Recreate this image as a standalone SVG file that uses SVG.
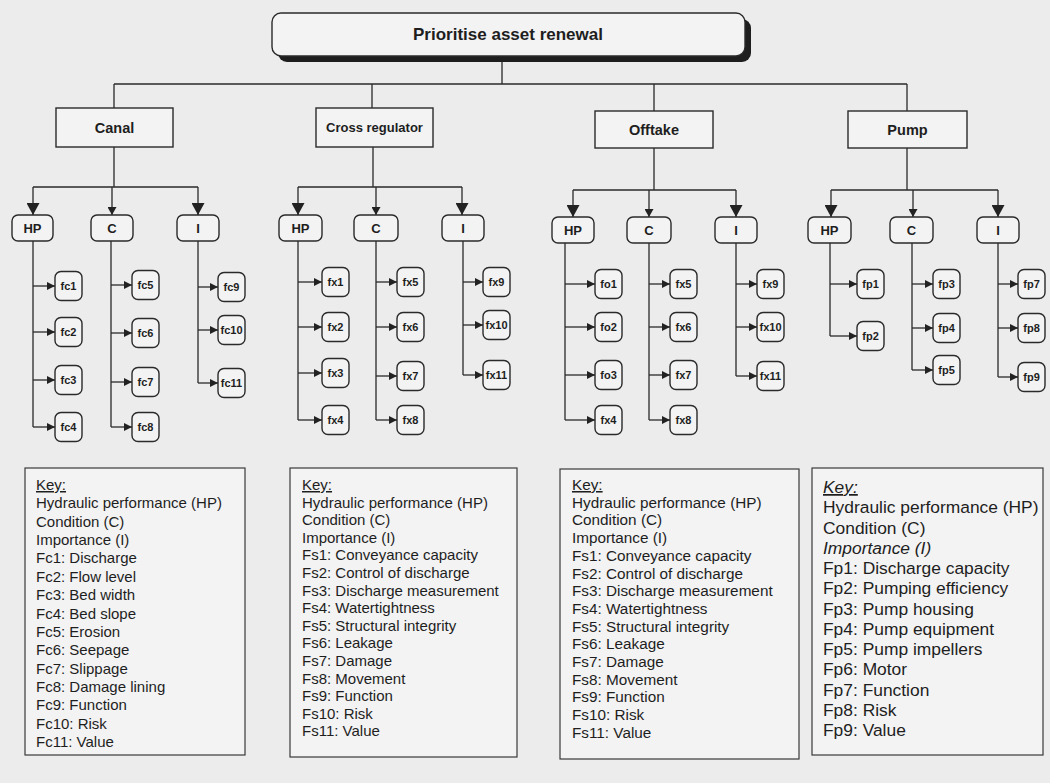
<svg xmlns="http://www.w3.org/2000/svg" width="1050" height="783" viewBox="0 0 1050 783">
<defs>
<style>
.bg{fill:#ececec}
.box{fill:#f3f3f3;stroke:#2a2a2a;stroke-width:1.4}
.kbox{fill:#f3f3f3;stroke:#3a3a3a;stroke-width:1.2}
.ln{fill:none;stroke:#2a2a2a;stroke-width:1.3}
.lb{font-family:"Liberation Sans",Arial,sans-serif;font-weight:bold;fill:#1e1e1e;text-anchor:middle}
.f{font-size:11px}
.t3{font-size:13px}
.key{font-family:"Liberation Sans",Arial,sans-serif;fill:#1e1e1e}
</style>
<marker id="ab" viewBox="0 0 12 13" refX="12" refY="6.5" markerWidth="12" markerHeight="13" markerUnits="userSpaceOnUse" orient="auto"><path d="M0,0L12,6.5L0,13z" fill="#222"/></marker>
<marker id="as" viewBox="0 0 8 9" refX="8" refY="4.5" markerWidth="8" markerHeight="9" markerUnits="userSpaceOnUse" orient="auto"><path d="M0,0L8,4.5L0,9z" fill="#222"/></marker>
<marker id="af" viewBox="0 0 8 8" refX="8" refY="4" markerWidth="8" markerHeight="8" markerUnits="userSpaceOnUse" orient="auto"><path d="M0,0L8,4L0,8z" fill="#222"/></marker>
</defs>
<rect class="bg" x="0" y="0" width="1050" height="783"/>

<g id="connectors">
<path class="ln" d="M502,60V84M114,84H907M114,84V108M372,84V108M654,84V111M907,84V111"/>
<!-- level 2 to level 3 -->
<path class="ln" d="M114,147V187M33,187H198"/>
<path class="ln" d="M33,187V215" marker-end="url(#ab)"/>
<path class="ln" d="M112,187V215" marker-end="url(#as)"/>
<path class="ln" d="M198,187V215" marker-end="url(#ab)"/>
<path class="ln" d="M373,147V187M298,187H462"/>
<path class="ln" d="M298,187V215" marker-end="url(#ab)"/>
<path class="ln" d="M376,187V215" marker-end="url(#as)"/>
<path class="ln" d="M462,187V215" marker-end="url(#ab)"/>
<path class="ln" d="M654,148V190M573,190H736"/>
<path class="ln" d="M573,190V217" marker-end="url(#ab)"/>
<path class="ln" d="M649,190V217" marker-end="url(#as)"/>
<path class="ln" d="M736,190V217" marker-end="url(#ab)"/>
<path class="ln" d="M907,148V190M831,190H998"/>
<path class="ln" d="M831,190V217" marker-end="url(#ab)"/>
<path class="ln" d="M913,190V217" marker-end="url(#as)"/>
<path class="ln" d="M998,190V217" marker-end="url(#ab)"/>
<!-- verticals to leaves -->
<path class="ln" d="M33,241V427M111,241V427M198,241V383M298,241V420M376,241V420M463,241V375M565,243V420M649,243V420M736,243V376M830,243V336M912,243V370M998,243V377"/>
<!-- branches -->
<g marker-end="url(#af)">
<path class="ln" d="M33,286H55"/><path class="ln" d="M33,332H55"/><path class="ln" d="M33,380H55"/><path class="ln" d="M33,427H55"/>
<path class="ln" d="M111,285H132"/><path class="ln" d="M111,333H132"/><path class="ln" d="M111,382H132"/><path class="ln" d="M111,427H132"/>
<path class="ln" d="M198,287H218"/><path class="ln" d="M198,330H218"/><path class="ln" d="M198,383H218"/>
<path class="ln" d="M298,282H322"/><path class="ln" d="M298,327H322"/><path class="ln" d="M298,373H322"/><path class="ln" d="M298,420H322"/>
<path class="ln" d="M376,282H397"/><path class="ln" d="M376,327H397"/><path class="ln" d="M376,376H397"/><path class="ln" d="M376,420H397"/>
<path class="ln" d="M463,282H483"/><path class="ln" d="M463,325H483"/><path class="ln" d="M463,375H483"/>
<path class="ln" d="M565,284H595"/><path class="ln" d="M565,327H595"/><path class="ln" d="M565,375H595"/><path class="ln" d="M565,420H595"/>
<path class="ln" d="M649,284H670"/><path class="ln" d="M649,327H670"/><path class="ln" d="M649,375H670"/><path class="ln" d="M649,420H670"/>
<path class="ln" d="M736,284H757"/><path class="ln" d="M736,327H757"/><path class="ln" d="M736,376H757"/>
<path class="ln" d="M830,284H857"/><path class="ln" d="M830,336H857"/>
<path class="ln" d="M912,284H933"/><path class="ln" d="M912,328H933"/><path class="ln" d="M912,370H933"/>
<path class="ln" d="M998,284H1018"/><path class="ln" d="M998,328H1018"/><path class="ln" d="M998,377H1018"/>
</g>
</g>

<g id="n-root">
<rect x="278" y="19" width="473" height="43" rx="9" fill="#1e1e1e"/>
<rect class="box" x="272" y="13" width="473" height="43" rx="9"/>
<text class="lb" x="508" y="40" font-size="17">Prioritise asset renewal</text>
</g>

<g id="n-canal"><rect class="box" x="56" y="108" width="117" height="39"/><text class="lb" x="114.5" y="132.5" font-size="14.5">Canal</text></g>
<g id="n-cross"><rect class="box" x="316" y="108" width="117" height="39"/><text class="lb" x="374.5" y="132" font-size="13">Cross regulator</text></g>
<g id="n-offtake"><rect class="box" x="595" y="111" width="118" height="37"/><text class="lb" x="654" y="134.5" font-size="14.5">Offtake</text></g>
<g id="n-pump"><rect class="box" x="848" y="111" width="119" height="37"/><text class="lb" x="907.5" y="134.5" font-size="14.5">Pump</text></g>

<g id="n-canal-hp"><rect class="box" x="12" y="215" width="41" height="26" rx="6"/><text class="lb t3" x="32.5" y="232.5">HP</text></g>
<g id="n-canal-c"><rect class="box" x="91" y="215" width="42" height="26" rx="6"/><text class="lb t3" x="112" y="232.5">C</text></g>
<g id="n-canal-i"><rect class="box" x="177" y="215" width="42" height="26" rx="6"/><text class="lb t3" x="198" y="232.5">I</text></g>
<g id="n-cross-hp"><rect class="box" x="279" y="215" width="43" height="26" rx="6"/><text class="lb t3" x="300.5" y="232.5">HP</text></g>
<g id="n-cross-c"><rect class="box" x="354" y="215" width="44" height="26" rx="6"/><text class="lb t3" x="376" y="232.5">C</text></g>
<g id="n-cross-i"><rect class="box" x="442" y="215" width="42" height="26" rx="6"/><text class="lb t3" x="463" y="232.5">I</text></g>
<g id="n-off-hp"><rect class="box" x="552" y="217" width="42" height="26" rx="6"/><text class="lb t3" x="573" y="234.5">HP</text></g>
<g id="n-off-c"><rect class="box" x="627" y="217" width="44" height="26" rx="6"/><text class="lb t3" x="649" y="234.5">C</text></g>
<g id="n-off-i"><rect class="box" x="715" y="217" width="42" height="26" rx="6"/><text class="lb t3" x="736" y="234.5">I</text></g>
<g id="n-pump-hp"><rect class="box" x="808" y="217" width="43" height="26" rx="6"/><text class="lb t3" x="829.5" y="234.5">HP</text></g>
<g id="n-pump-c"><rect class="box" x="890" y="217" width="43" height="26" rx="6"/><text class="lb t3" x="911.5" y="234.5">C</text></g>
<g id="n-pump-i"><rect class="box" x="977" y="217" width="42" height="26" rx="6"/><text class="lb t3" x="998" y="234.5">I</text></g>

<!-- canal leaves -->
<g id="n-fc1"><rect class="box" x="55" y="271.5" width="27" height="29" rx="6"/><text class="lb f" x="68.5" y="290">fc1</text></g>
<g id="n-fc2"><rect class="box" x="55" y="317.5" width="27" height="29" rx="6"/><text class="lb f" x="68.5" y="336">fc2</text></g>
<g id="n-fc3"><rect class="box" x="55" y="365.5" width="27" height="29" rx="6"/><text class="lb f" x="68.5" y="384">fc3</text></g>
<g id="n-fc4"><rect class="box" x="55" y="412.5" width="27" height="29" rx="6"/><text class="lb f" x="68.5" y="431">fc4</text></g>
<g id="n-fc5"><rect class="box" x="132" y="270.5" width="27" height="29" rx="6"/><text class="lb f" x="145.5" y="289">fc5</text></g>
<g id="n-fc6"><rect class="box" x="132" y="318.5" width="27" height="29" rx="6"/><text class="lb f" x="145.5" y="337">fc6</text></g>
<g id="n-fc7"><rect class="box" x="132" y="367.5" width="27" height="29" rx="6"/><text class="lb f" x="145.5" y="386">fc7</text></g>
<g id="n-fc8"><rect class="box" x="132" y="412.5" width="27" height="29" rx="6"/><text class="lb f" x="145.5" y="431">fc8</text></g>
<g id="n-fc9"><rect class="box" x="218" y="272.5" width="27" height="29" rx="6"/><text class="lb f" x="231.5" y="291">fc9</text></g>
<g id="n-fc10"><rect class="box" x="218" y="315.5" width="27" height="29" rx="6"/><text class="lb f" x="231.5" y="334">fc10</text></g>
<g id="n-fc11"><rect class="box" x="218" y="368.5" width="27" height="29" rx="6"/><text class="lb f" x="231.5" y="387">fc11</text></g>

<!-- cross regulator leaves -->
<g id="n-fx1"><rect class="box" x="322" y="267.5" width="27" height="29" rx="6"/><text class="lb f" x="335.5" y="286">fx1</text></g>
<g id="n-fx2"><rect class="box" x="322" y="312.5" width="27" height="29" rx="6"/><text class="lb f" x="335.5" y="331">fx2</text></g>
<g id="n-fx3"><rect class="box" x="322" y="358.5" width="27" height="29" rx="6"/><text class="lb f" x="335.5" y="377">fx3</text></g>
<g id="n-fx4"><rect class="box" x="322" y="405.5" width="27" height="29" rx="6"/><text class="lb f" x="335.5" y="424">fx4</text></g>
<g id="n-fx5"><rect class="box" x="397" y="267.5" width="27" height="29" rx="6"/><text class="lb f" x="410.5" y="286">fx5</text></g>
<g id="n-fx6"><rect class="box" x="397" y="312.5" width="27" height="29" rx="6"/><text class="lb f" x="410.5" y="331">fx6</text></g>
<g id="n-fx7"><rect class="box" x="397" y="361.5" width="27" height="29" rx="6"/><text class="lb f" x="410.5" y="380">fx7</text></g>
<g id="n-fx8"><rect class="box" x="397" y="405.5" width="27" height="29" rx="6"/><text class="lb f" x="410.5" y="424">fx8</text></g>
<g id="n-fx9"><rect class="box" x="483" y="267.5" width="27" height="29" rx="6"/><text class="lb f" x="496.5" y="286">fx9</text></g>
<g id="n-fx10"><rect class="box" x="483" y="310.5" width="27" height="29" rx="6"/><text class="lb f" x="496.5" y="329">fx10</text></g>
<g id="n-fx11"><rect class="box" x="483" y="360.5" width="27" height="29" rx="6"/><text class="lb f" x="496.5" y="379">fx11</text></g>

<!-- offtake leaves -->
<g id="n-fo1"><rect class="box" x="595" y="269.5" width="27" height="29" rx="6"/><text class="lb f" x="608.5" y="288">fo1</text></g>
<g id="n-fo2"><rect class="box" x="595" y="312.5" width="27" height="29" rx="6"/><text class="lb f" x="608.5" y="331">fo2</text></g>
<g id="n-fo3"><rect class="box" x="595" y="360.5" width="27" height="29" rx="6"/><text class="lb f" x="608.5" y="379">fo3</text></g>
<g id="n-fo-fx4"><rect class="box" x="595" y="405.5" width="27" height="29" rx="6"/><text class="lb f" x="608.5" y="424">fx4</text></g>
<g id="n-fo-fx5"><rect class="box" x="670" y="269.5" width="27" height="29" rx="6"/><text class="lb f" x="683.5" y="288">fx5</text></g>
<g id="n-fo-fx6"><rect class="box" x="670" y="312.5" width="27" height="29" rx="6"/><text class="lb f" x="683.5" y="331">fx6</text></g>
<g id="n-fo-fx7"><rect class="box" x="670" y="360.5" width="27" height="29" rx="6"/><text class="lb f" x="683.5" y="379">fx7</text></g>
<g id="n-fo-fx8"><rect class="box" x="670" y="405.5" width="27" height="29" rx="6"/><text class="lb f" x="683.5" y="424">fx8</text></g>
<g id="n-fo-fx9"><rect class="box" x="757" y="269.5" width="27" height="29" rx="6"/><text class="lb f" x="770.5" y="288">fx9</text></g>
<g id="n-fo-fx10"><rect class="box" x="757" y="312.5" width="27" height="29" rx="6"/><text class="lb f" x="770.5" y="331">fx10</text></g>
<g id="n-fo-fx11"><rect class="box" x="757" y="361.5" width="27" height="29" rx="6"/><text class="lb f" x="770.5" y="380">fx11</text></g>

<!-- pump leaves -->
<g id="n-fp1"><rect class="box" x="857" y="269.5" width="27" height="29" rx="6"/><text class="lb f" x="870.5" y="288">fp1</text></g>
<g id="n-fp2"><rect class="box" x="857" y="321.5" width="27" height="29" rx="6"/><text class="lb f" x="870.5" y="340">fp2</text></g>
<g id="n-fp3"><rect class="box" x="933" y="269.5" width="27" height="29" rx="6"/><text class="lb f" x="946.5" y="288">fp3</text></g>
<g id="n-fp4"><rect class="box" x="933" y="313.5" width="27" height="29" rx="6"/><text class="lb f" x="946.5" y="332">fp4</text></g>
<g id="n-fp5"><rect class="box" x="933" y="355.5" width="27" height="29" rx="6"/><text class="lb f" x="946.5" y="374">fp5</text></g>
<g id="n-fp7"><rect class="box" x="1018" y="269.5" width="27" height="29" rx="6"/><text class="lb f" x="1031.5" y="288">fp7</text></g>
<g id="n-fp8"><rect class="box" x="1018" y="313.5" width="27" height="29" rx="6"/><text class="lb f" x="1031.5" y="332">fp8</text></g>
<g id="n-fp9"><rect class="box" x="1018" y="362.5" width="27" height="29" rx="6"/><text class="lb f" x="1031.5" y="381">fp9</text></g>

<!-- keys -->
<g id="key-canal">
<rect class="kbox" x="25" y="468" width="220" height="287"/>
<text class="key" font-size="15">
<tspan x="36" y="490" text-decoration="underline">Key:</tspan>
<tspan x="36" dy="18.36">Hydraulic performance (HP)</tspan>
<tspan x="36" dy="18.36">Condition (C)</tspan>
<tspan x="36" dy="18.36">Importance (I)</tspan>
<tspan x="36" dy="18.36">Fc1: Discharge</tspan>
<tspan x="36" dy="18.36">Fc2: Flow level</tspan>
<tspan x="36" dy="18.36">Fc3: Bed width</tspan>
<tspan x="36" dy="18.36">Fc4: Bed slope</tspan>
<tspan x="36" dy="18.36">Fc5: Erosion</tspan>
<tspan x="36" dy="18.36">Fc6: Seepage</tspan>
<tspan x="36" dy="18.36">Fc7: Slippage</tspan>
<tspan x="36" dy="18.36">Fc8: Damage lining</tspan>
<tspan x="36" dy="18.36">Fc9: Function</tspan>
<tspan x="36" dy="18.36">Fc10: Risk</tspan>
<tspan x="36" dy="18.36">Fc11: Value</tspan>
</text>
</g>
<g id="key-cross">
<rect class="kbox" x="290" y="468" width="227" height="289"/>
<text class="key" font-size="15">
<tspan x="302" y="490" text-decoration="underline">Key:</tspan>
<tspan x="302" dy="17.6">Hydraulic performance (HP)</tspan>
<tspan x="302" dy="17.6">Condition (C)</tspan>
<tspan x="302" dy="17.6">Importance (I)</tspan>
<tspan x="302" dy="17.6">Fs1: Conveyance capacity</tspan>
<tspan x="302" dy="17.6">Fs2: Control of discharge</tspan>
<tspan x="302" dy="17.6">Fs3: Discharge measurement</tspan>
<tspan x="302" dy="17.6">Fs4: Watertightness</tspan>
<tspan x="302" dy="17.6">Fs5: Structural integrity</tspan>
<tspan x="302" dy="17.6">Fs6: Leakage</tspan>
<tspan x="302" dy="17.6">Fs7: Damage</tspan>
<tspan x="302" dy="17.6">Fs8: Movement</tspan>
<tspan x="302" dy="17.6">Fs9: Function</tspan>
<tspan x="302" dy="17.6">Fs10: Risk</tspan>
<tspan x="302" dy="17.6">Fs11: Value</tspan>
</text>
</g>
<g id="key-offtake">
<rect class="kbox" x="560" y="469" width="239" height="290"/>
<text class="key" font-size="15.3">
<tspan x="572" y="490" text-decoration="underline">Key:</tspan>
<tspan x="572" dy="17.7">Hydraulic performance (HP)</tspan>
<tspan x="572" dy="17.7">Condition (C)</tspan>
<tspan x="572" dy="17.7">Importance (I)</tspan>
<tspan x="572" dy="17.7">Fs1: Conveyance capacity</tspan>
<tspan x="572" dy="17.7">Fs2: Control of discharge</tspan>
<tspan x="572" dy="17.7">Fs3: Discharge measurement</tspan>
<tspan x="572" dy="17.7">Fs4: Watertightness</tspan>
<tspan x="572" dy="17.7">Fs5: Structural integrity</tspan>
<tspan x="572" dy="17.7">Fs6: Leakage</tspan>
<tspan x="572" dy="17.7">Fs7: Damage</tspan>
<tspan x="572" dy="17.7">Fs8: Movement</tspan>
<tspan x="572" dy="17.7">Fs9: Function</tspan>
<tspan x="572" dy="17.7">Fs10: Risk</tspan>
<tspan x="572" dy="17.7">Fs11: Value</tspan>
</text>
</g>
<g id="key-pump">
<rect class="kbox" x="812" y="468" width="231" height="287"/>
<text class="key" font-size="17.4">
<tspan x="823" y="493" font-style="italic" text-decoration="underline">Key:</tspan>
<tspan x="823" dy="20.25">Hydraulic performance (HP)</tspan>
<tspan x="823" dy="20.25">Condition (C)</tspan>
<tspan x="823" dy="20.25" font-style="italic">Importance (I)</tspan>
<tspan x="823" dy="20.25">Fp1: Discharge capacity</tspan>
<tspan x="823" dy="20.25">Fp2: Pumping efficiency</tspan>
<tspan x="823" dy="20.25">Fp3: Pump housing</tspan>
<tspan x="823" dy="20.25">Fp4: Pump equipment</tspan>
<tspan x="823" dy="20.25">Fp5: Pump impellers</tspan>
<tspan x="823" dy="20.25">Fp6: Motor</tspan>
<tspan x="823" dy="20.25">Fp7: Function</tspan>
<tspan x="823" dy="20.25">Fp8: Risk</tspan>
<tspan x="823" dy="20.25">Fp9: Value</tspan>
</text>
</g>
</svg>
